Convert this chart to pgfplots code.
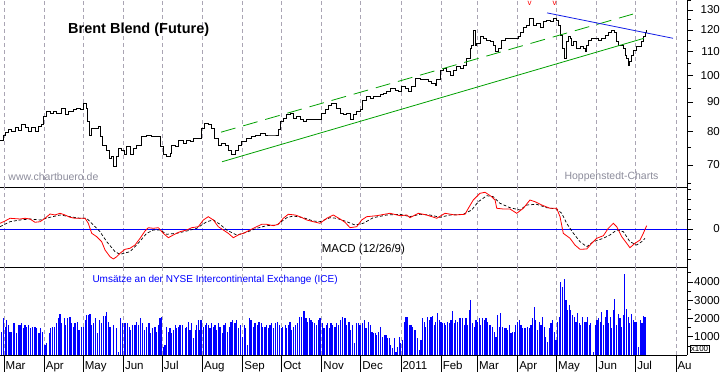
\documentclass[border=0pt]{standalone}
\usepackage{fontspec}
\setmainfont{Liberation Sans}
\usepackage{pgfplots}
\pgfplotsset{compat=1.18}
\definecolor{gridc}{RGB}{170,165,180}
\definecolor{trendg}{RGB}{0,160,0}
\definecolor{trendb}{RGB}{20,30,230}
\definecolor{wm}{RGB}{140,140,155}
\pgfplotsset{
  panel/.style={
    scale only axis, width=687pt, xmin=-3.1, xmax=526.6,
    axis x line*=bottom, axis y line*=right,
    axis line style={black, line width=0.8pt, -},
    xtick={0,31,61,92,122,153,184,214,245,275,306,337,365,396,426,457,487,518},
    xmajorgrids, major grid style={gridc, dash pattern=on 4pt off 3pt, line width=0.6pt},
    xticklabels={}, x tick style={draw=none},
    y tick style={black, line width=0.6pt},
    tick align=outside, major tick length=6pt, minor tick length=4pt,
    yticklabel style={anchor=east, inner sep=0pt, xshift=27pt},
    ticklabel style={font=\fontsize{11.5}{13}\selectfont},
    /pgf/number format/assume math mode=true,
  }
}
\begin{document}
\begin{tikzpicture}
\useasboundingbox (0,0) rectangle (723pt,372pt);
% ---------------- price panel
\begin{axis}[panel, at={(0pt,185pt)}, anchor=south west, height=187pt,
  ymode=log, ymin=64.1, ymax=135.3,
  ytick={70,80,90,100,110,120,130}, yticklabels={70,80,90,100,110,120,130},
  minor ytick={65,75,85,95,105,115,125,135}]
\addplot[black, line width=0.9pt, const plot, mark=none] coordinates {
(-3.1,77.3) (-0.5,78.9) (0.8,79.6) (3.3,80.5) (5.9,79.9) (8.5,81.2) (11.0,80.2) (13.6,82.2)
(16.2,81.2) (18.7,79.9) (21.3,81.2) (23.9,79.9) (26.5,81.6) (29.0,82.2) (30.3,84.9) (32.9,86.6)
(35.5,86.1) (38.0,86.6) (40.6,86.1) (44.5,87.8) (47.0,85.5) (49.6,86.6) (53.4,87.2) (56.1,87.8)
(58.6,87.2) (61.1,89.5) (63.2,87.8) (64.2,83.2) (65.8,78.9) (67.6,81.1) (70.2,81.1) (72.7,81.6)
(74.0,78.4) (76.1,75.8) (78.6,74.3) (81.2,71.9) (83.0,72.4) (84.3,69.5) (86.4,72.4) (88.1,74.8)
(90.7,74.3) (92.5,72.9) (94.6,75.3) (97.1,72.9) (99.7,74.8) (102.3,75.8) (106.2,78.4) (110.0,78.9)
(113.9,78.4) (117.7,78.4) (120.3,75.3) (122.8,72.9) (125.4,72.4) (128.0,73.4) (129.3,75.8) (131.8,75.3)
(134.4,77.3) (138.2,76.3) (140.9,77.3) (143.4,76.8) (146.0,77.8) (149.8,77.8) (152.4,81.1) (154.4,82.7)
(157.5,82.2) (160.1,81.1) (162.1,77.8) (165.2,75.8) (167.8,76.3) (170.4,75.8) (172.9,74.3) (175.6,72.9)
(178.1,74.3) (180.6,75.8) (183.3,76.8) (187.1,77.8) (191.0,78.4) (193.5,78.9) (197.4,79.5) (201.2,78.9)
(205.1,78.9) (207.6,78.9) (211.5,80.5) (212.8,83.2) (215.3,84.4) (218.0,85.5) (220.5,86.1) (223.1,84.4)
(225.7,84.9) (228.2,83.8) (230.8,83.2) (233.4,83.8) (237.2,83.8) (241.1,83.8) (243.6,83.8) (244.9,86.1)
(247.5,87.2) (250.0,88.9) (252.7,89.5) (255.2,89.5) (256.5,87.8) (259.1,86.1) (261.6,85.5) (264.2,86.1)
(266.8,83.8) (269.3,85.5) (271.9,86.6) (274.5,87.2) (276.6,90.7) (279.6,91.9) (282.2,91.3) (284.7,91.9)
(287.4,91.9) (289.9,92.6) (292.4,93.2) (295.1,93.8) (297.6,95.1) (301.5,94.4) (304.0,93.8) (306.6,95.8)
(309.2,95.1) (311.7,93.8) (314.3,95.8) (316.9,98.9) (320.7,98.3) (324.6,98.3) (327.1,97.6) (329.8,97.0)
(332.3,96.3) (333.6,98.3) (336.2,102.3) (338.7,103.0) (341.3,101.6) (343.9,100.2) (346.4,102.3) (349.0,103.6)
(351.6,103.0) (354.1,104.3) (356.7,107.2) (359.3,111.5) (360.6,113.0) (361.8,120.0) (363.1,113.0) (364.4,113.8)
(367.0,116.8) (369.5,116.1) (372.2,115.3) (374.7,114.5) (377.3,113.0) (379.1,110.1) (381.1,111.5) (383.2,115.3)
(386.3,116.1) (388.8,116.1) (391.4,116.1) (394.0,116.1) (396.5,116.8) (397.8,118.9) (400.4,121.2) (403.0,122.4)
(405.5,125.8) (408.1,122.4) (410.7,123.2) (413.3,121.3) (415.8,124.1) (418.4,124.9) (421.0,124.1) (423.5,125.8)
(426.2,124.9) (427.4,122.4) (429.2,117.6) (430.8,111.5) (431.8,107.2) (433.3,114.5) (435.1,116.8) (436.4,116.1)
(437.7,113.0) (438.9,114.5) (441.6,111.5) (444.1,112.2) (446.7,111.5) (448.0,110.1) (449.3,113.0) (450.5,115.3)
(453.2,116.1) (455.7,116.1) (458.2,115.3) (460.9,116.1) (463.4,117.6) (466.0,118.9) (468.6,120.0) (470.3,118.9)
(471.9,114.5) (473.6,113.0) (476.3,113.0) (477.5,111.5) (478.8,108.6) (480.1,107.2) (481.3,104.3) (482.6,105.7)
(483.9,108.6) (485.2,110.8) (487.8,112.2) (490.3,112.2) (491.6,114.5) (492.9,116.8) (494.2,118.9) (495.0,120.0)
};
\addplot[trendg, line width=0.8pt] coordinates {(168.1,70.9) (493.4,116.1)};
\addplot[trendg, line width=0.8pt, dash pattern=on 15pt off 8pt] coordinates {(167.3,79.8) (485.0,127.9)};
\addplot[trendb, line width=0.8pt] coordinates {(418.7,128.5) (515.8,116.1)};
\end{axis}
% ---------------- MACD panel
\begin{axis}[panel, at={(0pt,105pt)}, anchor=south west, height=80pt,
  ymin=-3.8, ymax=4.2, ytick={0}, yticklabels={0}, minor ytick={-3,-2,-1,1,2,3,4}]
\addplot[blue, line width=0.8pt] coordinates {(-3.1,0) (526.6,0)};
\addplot[black, line width=0.7pt, dash pattern=on 3pt off 2pt] coordinates {
(-3.1,0.23) (4.6,0.73) (12.3,0.9) (20.0,1.0) (27.8,0.9) (35.5,1.17) (43.2,1.4) (50.9,1.23)
(58.6,1.07) (63.8,1.07) (68.9,0.4) (74.0,-0.27) (79.2,-1.27) (85.6,-2.27) (89.4,-2.53) (97.1,-2.27)
(102.3,-1.6) (110.0,-0.43) (115.1,-0.1) (120.3,-0.1) (125.4,-0.53) (133.1,-0.43) (140.9,-0.2) (148.6,0.07)
(156.3,0.73) (161.4,0.9) (166.5,0.47) (171.7,-0.1) (179.4,-0.6) (187.1,-0.33) (194.8,0.07) (202.5,0.33)
(210.3,0.4) (218.0,1.13) (223.1,1.3) (230.8,1.13) (238.5,0.8) (243.6,0.73) (251.3,1.13) (256.5,1.07)
(264.2,0.73) (270.6,0.4) (277.0,0.57) (284.7,1.13) (295.1,1.4) (305.3,1.47) (313.0,1.23) (320.7,1.47)
(328.4,1.4) (336.2,1.17) (343.9,1.4) (354.1,1.47) (360.6,1.9) (365.7,2.73) (372.2,3.33) (377.3,3.23)
(382.4,2.57) (390.1,2.13) (397.8,1.9) (403.0,2.4) (410.7,2.47) (418.4,2.13) (426.1,2.0) (430.0,1.57)
(433.8,0.57) (439.0,-0.43) (444.1,-1.27) (449.3,-1.77) (454.4,-1.27) (462.1,-0.93) (467.2,-0.6) (472.4,-0.1)
(477.5,-0.27) (482.6,-1.27) (487.8,-1.6) (491.6,-1.27) (494.2,-0.93)
};
\addplot[red, line width=0.8pt] coordinates {
(-3.1,0.57) (0.8,0.8) (4.6,1.07) (12.3,1.0) (16.2,1.07) (20.0,1.0) (23.9,0.67) (27.8,0.73)
(31.6,1.07) (35.5,1.5) (39.3,1.4) (43.2,1.57) (47.0,1.4) (50.9,1.17) (54.7,1.07) (58.6,1.07)
(62.5,1.07) (65.0,0.57) (67.6,-0.43) (71.5,-0.77) (75.3,-1.27) (77.9,-2.1) (81.7,-2.77) (84.3,-3.0)
(86.9,-2.77) (89.4,-2.43) (93.3,-2.03) (97.1,-1.93) (101.0,-1.6) (104.9,-0.93) (108.7,-0.2) (111.3,0.13)
(115.1,0.07) (119.0,0.13) (122.8,-0.43) (126.7,-0.87) (130.5,-0.6) (135.7,-0.27) (140.9,-0.1) (144.7,0.13)
(149.8,0.23) (153.7,0.9) (157.5,1.23) (161.4,0.9) (165.2,0.23) (169.1,-0.1) (172.9,-0.43) (176.8,-0.87)
(180.6,-0.6) (184.5,-0.43) (189.7,-0.1) (194.8,0.23) (198.7,0.47) (202.5,0.47) (207.6,0.33) (211.5,0.47)
(215.3,1.07) (219.2,1.47) (224.4,1.4) (228.2,1.23) (233.4,0.9) (238.5,0.73) (243.6,0.57) (248.8,1.07)
(253.9,1.4) (259.1,1.0) (262.9,0.67) (266.8,0.13) (271.9,0.23) (275.8,0.9) (279.6,1.23) (287.4,1.33)
(297.6,1.57) (305.3,1.33) (310.5,1.4) (313.0,1.13) (319.4,1.57) (325.9,1.4) (333.6,1.07) (340.0,1.57)
(347.7,1.4) (355.4,1.47) (358.0,2.07) (361.8,2.9) (367.0,3.57) (370.9,3.67) (376.0,3.23) (378.6,2.9)
(379.9,2.07) (385.0,2.0) (390.1,2.0) (395.3,1.57) (400.4,2.07) (405.5,2.9) (409.4,2.73) (414.6,2.4)
(421.0,2.07) (426.1,2.07) (428.7,1.23) (431.2,-0.43) (436.4,-0.93) (440.2,-1.6) (444.1,-2.03) (449.3,-2.0)
(453.1,-1.43) (457.0,-0.93) (462.1,-0.67) (465.9,0.07) (469.8,0.57) (472.4,0.23) (476.3,-0.77) (480.1,-1.43)
(482.6,-1.87) (486.5,-1.43) (490.4,-1.1) (492.9,-0.43) (495.5,0.33)
};
\end{axis}
% ---------------- volume panel
\begin{axis}[panel, at={(0pt,17pt)}, anchor=south west, height=88pt,
  ymin=0, ymax=4810, ytick={1000,2000,3000,4000}, yticklabels={1000,2000,3000,4000},
  minor ytick={500,1500,2500,3500,4500},
  x tick style={draw=black, line width=0.6pt, /pgfplots/major tick length=17pt},
  xticklabels={Mar,Apr,May,Jun,Jul,Aug,Sep,Oct,Nov,Dec,2011,Feb,Mar,Apr,May,Jun,Jul,Au},
  xticklabel style={anchor=north west, inner sep=0pt, xshift=1.5pt, yshift=0pt}]
\addplot[ycomb, blue, line width=1.1pt, mark=none] coordinates {
(-1.8,1274) (-0.5,2002) (0.8,1547) (2.1,1911) (3.3,1638) (4.6,1274) (5.9,1274) (7.7,1729)
(9.3,1183) (11.0,1638) (12.3,1638) (13.6,1729) (14.9,1456) (16.2,1638) (17.5,1547) (18.8,1638)
(20.6,1456) (22.1,1547) (23.9,1547) (25.2,1456) (27.0,1183) (27.8,1456) (29.8,1274) (31.6,546)
(32.9,637) (34.9,1183) (36.0,1456) (37.5,1547) (38.8,1547) (40.6,1729) (41.9,2002) (43.2,2239)
(44.5,1729) (46.3,2002) (47.6,1638) (49.1,2002) (50.9,2093) (52.2,1729) (53.5,1547) (54.7,1729)
(56.5,1820) (57.8,1365) (59.4,1547) (61.2,1547) (62.5,1911) (63.7,2184) (65.0,2184) (66.3,2239)
(67.6,1638) (68.9,1729) (70.2,2002) (72.0,1183) (73.5,1911) (75.3,1729) (76.6,2129) (77.9,2129)
(79.2,2366) (80.4,1820) (81.7,1547) (84.3,1638) (86.4,1456) (88.2,182) (90.0,2002) (91.5,1729)
(93.3,1729) (95.1,1729) (96.6,1547) (97.7,1365) (99.2,1638) (101.0,1638) (102.3,1820) (103.6,1638)
(104.9,2002) (106.7,1729) (108.2,1365) (110.0,1547) (111.8,1729) (113.1,1183) (114.6,1456) (116.4,1547)
(117.7,1274) (119.0,1638) (120.3,2002) (121.6,2093) (122.8,455) (124.1,546) (125.4,1547) (126.7,1274)
(128.0,1456) (129.3,1183) (130.6,1365) (131.9,1638) (133.1,1456) (134.4,1547) (135.7,1638) (137.8,1638)
(139.6,1456) (140.8,1547) (142.1,1820) (143.4,1365) (144.7,1729) (146.0,910) (147.3,1365) (148.6,1638)
(149.8,1911) (151.1,1365) (151.9,1911) (153.7,1547) (155.0,1638) (156.3,1729) (157.5,1638) (158.8,1456)
(160.1,1729) (161.4,1547) (162.7,1638) (164.0,1365) (165.3,1729) (166.5,1547) (168.3,1183) (169.6,1638)
(170.9,1729) (172.2,1274) (173.7,1547) (175.0,1820) (176.0,1911) (178.1,1729) (179.4,1911) (180.7,1456)
(182.0,1638) (183.8,1001) (185.3,1638) (186.3,1456) (187.6,546) (189.1,2002) (190.4,1911) (192.2,1547)
(193.5,1729) (195.3,1638) (196.6,1820) (198.2,1729) (199.4,1547) (201.2,1547) (202.5,1638) (203.8,1456)
(205.1,1638) (206.4,1729) (207.7,1456) (209.5,1729) (210.7,1820) (212.3,1638) (213.6,1456) (214.9,1547)
(216.7,1638) (217.9,1456) (219.2,1638) (220.5,1820) (221.8,1365) (223.1,1547) (224.9,1638) (226.4,1729)
(227.7,2093) (229.5,2093) (231.3,2402) (232.8,2002) (233.9,1820) (235.4,2002) (236.7,1911) (238.0,1820)
(239.3,1729) (241.1,1638) (242.4,1911) (243.6,2002) (245.4,1729) (246.7,1456) (248.3,1638) (249.5,1729)
(250.8,1456) (252.1,1729) (253.4,1638) (255.2,1547) (256.5,1729) (257.8,1638) (259.6,1911) (261.1,2093)
(262.9,2002) (264.2,1638) (266.0,1820) (267.3,1365) (268.8,1638) (270.1,637) (271.9,1729) (273.2,1729)
(274.5,1638) (276.5,1729) (277.8,1911) (279.1,1456) (280.9,1820) (282.4,1638) (283.7,1274) (285.0,1183)
(286.3,1183) (287.5,1092) (288.8,1274) (290.6,1547) (291.9,1001) (293.2,1092) (294.5,1092) (295.8,910)
(297.0,910) (298.3,546) (299.6,364) (300.9,910) (302.2,182) (303.5,455) (304.8,1001) (306.0,637)
(307.3,819) (308.6,1820) (309.9,2093) (311.2,2057) (312.5,1638) (313.8,1638) (315.0,1547) (316.3,1365)
(317.6,1365) (318.9,910) (320.2,273) (321.5,819) (322.7,2002) (324.0,1820) (325.3,1547) (326.6,2093)
(327.9,1911) (329.2,2093) (330.5,2129) (331.7,1638) (333.0,1820) (334.3,2275) (335.6,1911) (336.9,1820)
(338.2,1729) (339.5,1729) (340.7,1638) (342.0,1820) (343.3,1729) (344.6,1911) (345.9,2402) (347.2,1729)
(348.4,1911) (349.7,1820) (351.0,2002) (352.3,2002) (353.6,2002) (354.9,1638) (356.2,2002) (357.4,1638)
(358.7,2457) (360.0,3003) (361.3,1729) (362.6,1547) (363.9,1911) (365.2,1820) (366.4,2002) (367.7,1638)
(369.0,2002) (370.3,1911) (371.6,2002) (372.9,1820) (374.1,1638) (375.4,1638) (376.7,1547) (378.0,1274)
(379.3,1001) (380.6,2184) (381.9,1547) (383.1,2275) (384.4,1547) (385.7,1456) (387.0,1456) (388.3,1365)
(389.6,1638) (390.9,1183) (392.1,1274) (393.4,1274) (394.7,1638) (396.0,1820) (397.3,1911) (398.6,1638)
(399.8,1456) (401.1,1456) (402.4,1456) (403.7,1547) (405.0,1456) (406.3,1638) (407.6,2002) (408.8,2639)
(410.1,1911) (411.4,1365) (412.7,1820) (414.0,1638) (415.3,2093) (416.6,1547) (417.8,1001) (419.1,728)
(420.4,1456) (421.7,1729) (423.0,1911) (424.3,1274) (425.6,819) (426.8,1820) (428.1,2093) (429.4,4004)
(430.7,3731) (432.0,4131) (433.3,3003) (434.5,2457) (435.8,2730) (437.1,2457) (438.4,2184) (439.7,2093)
(441.0,1820) (442.3,2275) (443.5,1729) (444.8,1638) (446.1,2093) (447.4,1820) (448.7,1820) (450.0,2093)
(451.2,1638) (452.5,1729) (454.3,182) (455.9,1638) (457.2,1911) (458.4,2002) (459.7,1820) (461.0,2366)
(462.3,1638) (463.6,2093) (464.9,2457) (466.2,1729) (467.4,2093) (468.7,1456) (470.0,2457) (471.0,3039)
(472.3,1638) (473.6,2239) (474.9,2002) (476.2,1547) (477.5,2184) (478.7,4423) (480.0,2493) (481.3,2093)
(482.6,1729) (483.9,2239) (485.2,1911) (486.5,1820) (487.7,1820) (489.0,455) (490.6,1911) (491.9,1729)
(493.1,2129) (494.2,2057)
};
\end{axis}
% ---------------- texts
\node[anchor=base west, inner sep=0pt, font=\bfseries\fontsize{14.5}{16}\selectfont] at (68pt,338.5pt) {Brent Blend (Future)};
\node[anchor=base west, inner sep=0pt, text=wm, font=\fontsize{10.5}{12}\selectfont] at (8.3pt,191pt) {www.chartbuero.de};
\node[anchor=base west, inner sep=0pt, text=wm, font=\fontsize{10.5}{12}\selectfont] at (564.3pt,192.8pt) {Hoppenstedt-Charts};
\node[anchor=base west, inner sep=0pt, font=\fontsize{11.5}{13}\selectfont] at (321.7pt,119.5pt) {MACD (12/26/9)};
\node[anchor=base west, inner sep=0pt, text=blue, font=\fontsize{10}{12}\selectfont] at (92.3pt,89pt) {Umsätze an der NYSE Intercontinental Exchange (ICE)};
\node[anchor=base, inner sep=0pt, text=red, font=\fontsize{8}{9}\selectfont] at (529.5pt,366pt) {v};
\node[anchor=base, inner sep=0pt, text=red, font=\fontsize{8}{9}\selectfont] at (554.5pt,366pt) {v};
\node[draw=black, line width=0.6pt, inner sep=0.8pt, font=\fontsize{8}{9}\selectfont] at (699.5pt,23pt) {x100};
\end{tikzpicture}
\end{document}
